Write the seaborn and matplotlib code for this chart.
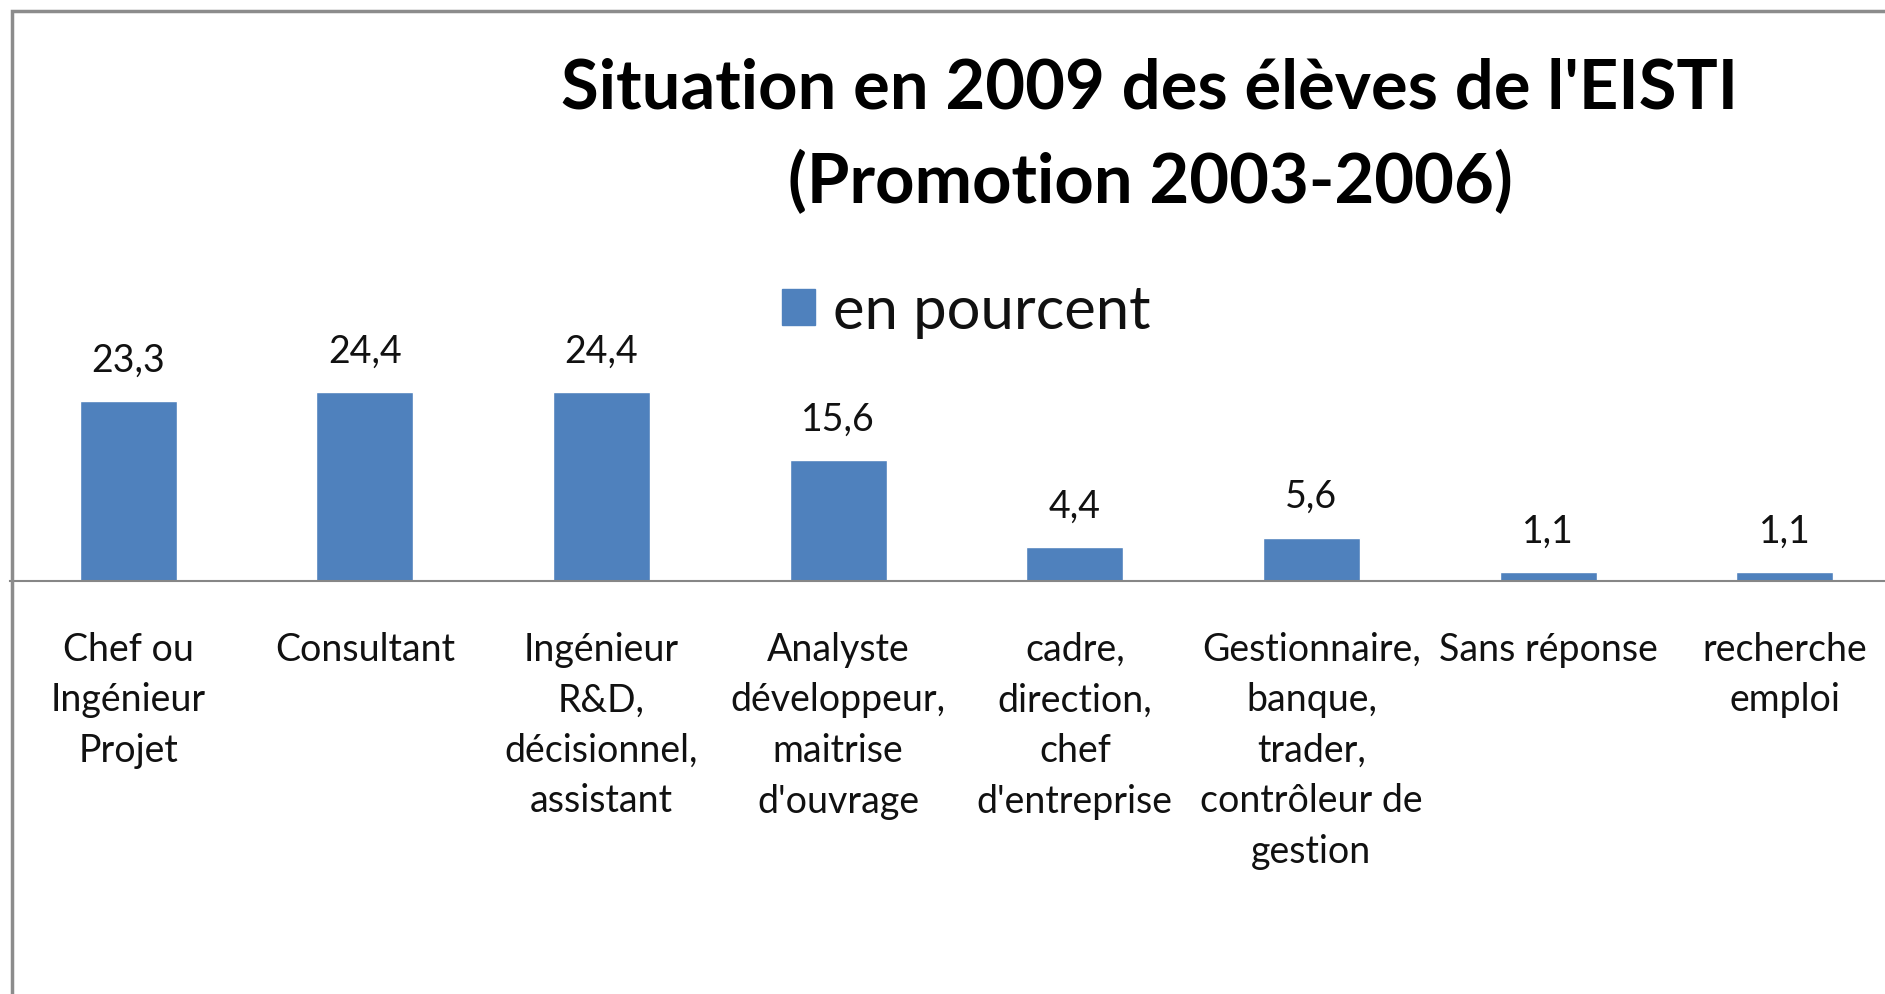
import matplotlib
matplotlib.use("Agg")
import matplotlib.pyplot as plt
from matplotlib.patches import Rectangle
import pandas as pd
import seaborn as sns

# données
postes = [
    "Chef ou\nIngénieur\nProjet",
    "Consultant",
    "Ingénieur\nR&D,\ndécisionnel,\nassistant",
    "Analyste\ndéveloppeur,\nmaitrise\nd'ouvrage",
    "cadre,\ndirection,\nchef\nd'entreprise",
    "Gestionnaire,\nbanque,\ntrader,\ncontrôleur de\ngestion",
    "Sans réponse",
    "recherche\nemploi",
]
pourcent = [23.3, 24.4, 24.4, 15.6, 4.4, 5.6, 1.1, 1.1]
serie = "en pourcent"

df = pd.DataFrame({"poste": postes, "valeur": pourcent, "serie": serie})

sns.set_theme(style="white")
plt.rcParams["font.family"] = ["Lato", "DejaVu Sans"]

W, H = 1885, 995
fig = plt.figure(figsize=(W / 100, H / 100), dpi=100)
fig.patch.set_facecolor("white")

ymax = 30
px_per_unit = 7.73
base_y = 582
ax = fig.add_axes([10 / W, (H - base_y) / H, 1893 / W, ymax * px_per_unit / H])

sns.barplot(data=df, x="poste", y="valeur", hue="serie", palette=["#4F81BD"],
            width=0.41, dodge=False, ax=ax, saturation=1, legend=False)

ax.set_ylim(0, ymax)
ax.set_xlim(-0.5, len(postes) - 0.5)
ax.set_xlabel("")
ax.set_ylabel("")
ax.set_yticks([])
for s in ["top", "left", "right"]:
    ax.spines[s].set_visible(False)
ax.spines["bottom"].set_color("#868686")
ax.spines["bottom"].set_linewidth(1.5)
ax.tick_params(axis="x", length=0, pad=36, labelsize=27, labelcolor="#111111")
for lab in ax.get_xticklabels():
    lab.set_linespacing(1.5)
ax.set_facecolor("none")

for c in ax.containers:
    ax.bar_label(c, labels=[f"{v:.1f}".replace(".", ",") for v in pourcent],
                 padding=17, fontsize=27, color="#111111")

# légende
handle = Rectangle((0, 0), 1, 1, color="#4F81BD")
leg = fig.legend([handle], [serie], loc="center", bbox_to_anchor=(966 / W, 1 - 312 / H),
                 bbox_transform=fig.transFigure, frameon=False, fontsize=43,
                 handlelength=0.55, handleheight=0.55, handletextpad=0.3)
for t in leg.get_texts():
    t.set_color("#111111")

fig.text(1150 / W, 1 - 136 / H, "Situation en 2009 des élèves de l'EISTI\n(Promotion 2003-2006)",
         ha="center", va="center", fontsize=49.5, fontweight="bold", linespacing=1.56,
         color="black")

# cadre du graphique
fig.add_artist(Rectangle((12 / W, -0.1), 2, 1.1 - 12 / H, transform=fig.transFigure,
                         fill=False, edgecolor="#8c8c8c", linewidth=2.5))

fig.savefig("out.png", dpi=100)
